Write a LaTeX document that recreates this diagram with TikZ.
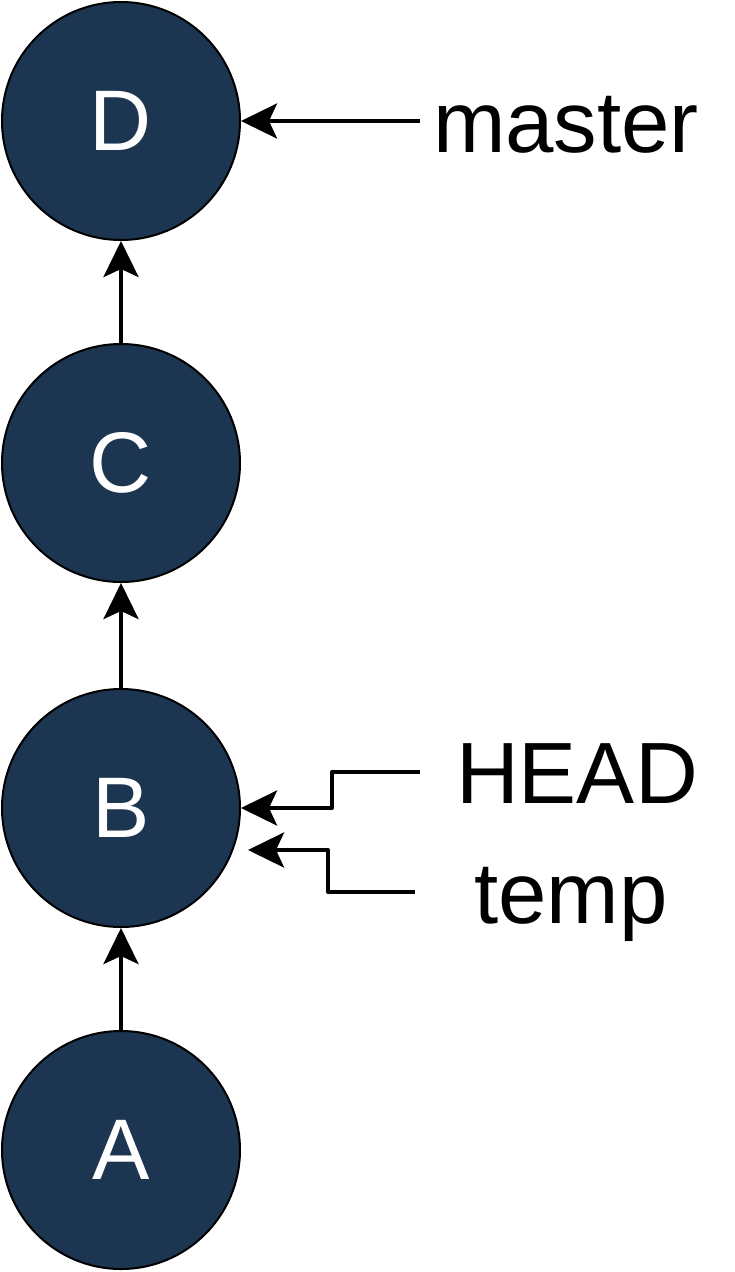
\documentclass[tikz,border=0pt]{standalone}
\usepackage{fontspec}
\setmainfont{Liberation Sans}
\usetikzlibrary{arrows.meta}
\definecolor{commitblue}{RGB}{28,53,81}
\begin{document}
\begin{tikzpicture}[x=1pt, y=-1pt, line join = round,
  commit/.style = {circle, draw = black, line width = 2pt, fill = commitblue,
    minimum size = 238pt, inner sep = 0pt, text = white,
    font = \fontsize{86}{100}\selectfont},
  lbl/.style = {inner sep = 0pt, text height = 62pt, text depth = 0pt,
    font = \fontsize{87}{100}\selectfont},
  ptr/.style = {line width = 4pt, -{Stealth[length = 36pt, width = 35pt, inset = 8pt]}}]
\useasboundingbox (0, 0) rectangle (735, 1272);

\foreach \n/\y in {A/1150, B/808, C/463, D/121}{
  \node[commit] (\n) at (121, \y) {\n};
}
\foreach \a/\b in {A/B, B/C, C/D}{
  \draw[ptr] (\a) -- (\b);
}

\node[lbl, minimum width = 292pt] (master) at (566, 121) {master};
\node[lbl, minimum width = 314pt] (HEAD) at (577, 772) {HEAD};
\node[lbl, minimum width = 312pt] (temp) at (571, 892) {temp};
\coordinate (tempin) at (248, 850);

\draw[ptr] (master.west) -- (D.east);
\draw[ptr] (HEAD.west) -- (332, 772) |- (B.east);
\draw[ptr] (temp.west) -- (328, 892) |- (tempin);
\end{tikzpicture}
\end{document}
